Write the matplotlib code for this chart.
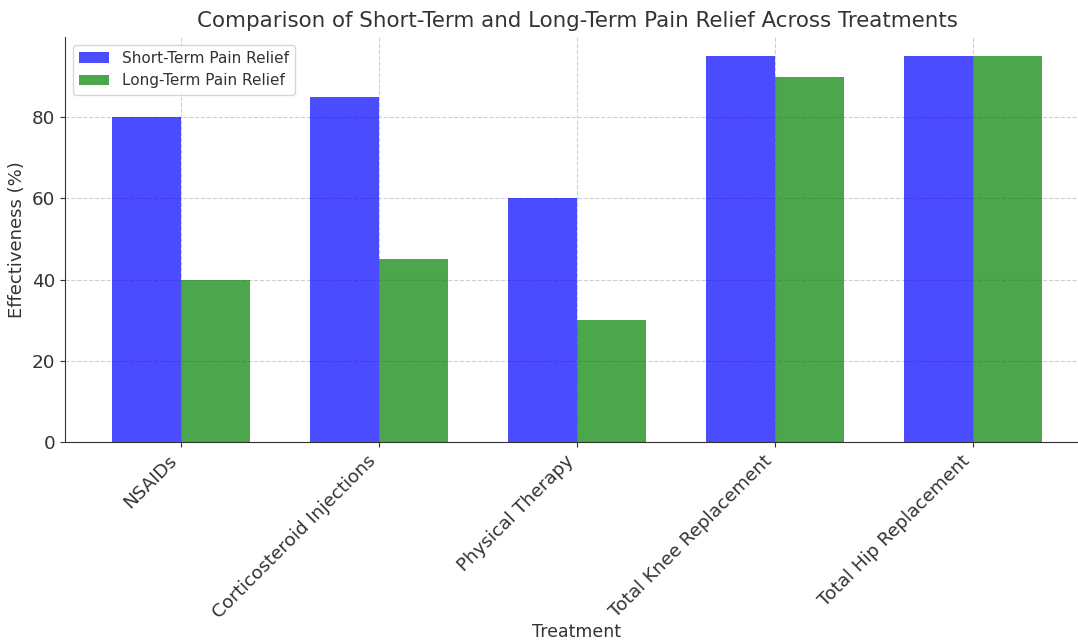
import numpy as np
import matplotlib
matplotlib.use("Agg")
import matplotlib.pyplot as plt

# data
treatments = ["NSAIDs", "Corticosteroid Injections", "Physical Therapy",
              "Total Knee Replacement", "Total Hip Replacement"]
short_term = [80, 85, 60, 95, 95]
long_term = [40, 45, 30, 90, 95]

plt.rcParams['font.family'] = ['DejaVu Sans']
text_col = '#333333'

fig = plt.figure(figsize=(10.78, 6.44), dpi=100)
ax = fig.add_axes([0.0603, 0.3137, 0.9499, 0.6288])

x = np.arange(len(treatments))
width = 0.35
ax.bar(x - width / 2, short_term, width, label='Short-Term Pain Relief', color='blue', alpha=0.7)
ax.bar(x + width / 2, long_term, width, label='Long-Term Pain Relief', color='green', alpha=0.7)

ax.set_title('Comparison of Short-Term and Long-Term Pain Relief Across Treatments',
             fontsize=15.4, color=text_col, pad=7)
ax.set_xlabel('Treatment', fontsize=12.5, color=text_col, labelpad=1)
ax.set_ylabel('Effectiveness (%)', fontsize=13, color=text_col)
ax.set_xticks(x)
ax.set_xticklabels(treatments, rotation=45, ha='right', fontsize=13.2, color=text_col)
ax.tick_params(axis='y', labelsize=13.2, labelcolor=text_col, color=text_col)
ax.tick_params(axis='x', color=text_col)
ax.set_yticks([0, 20, 40, 60, 80])

ax.grid(True, linestyle='--', alpha=0.7, color='#bbbbbb')
ax.set_axisbelow(True)
for s in ['top', 'right']:
    ax.spines[s].set_visible(False)
for s in ['left', 'bottom']:
    ax.spines[s].set_color(text_col)

leg = ax.legend(loc='upper left', fontsize=11)
for t in leg.get_texts():
    t.set_color(text_col)

fig.savefig('out.png', dpi=100)
